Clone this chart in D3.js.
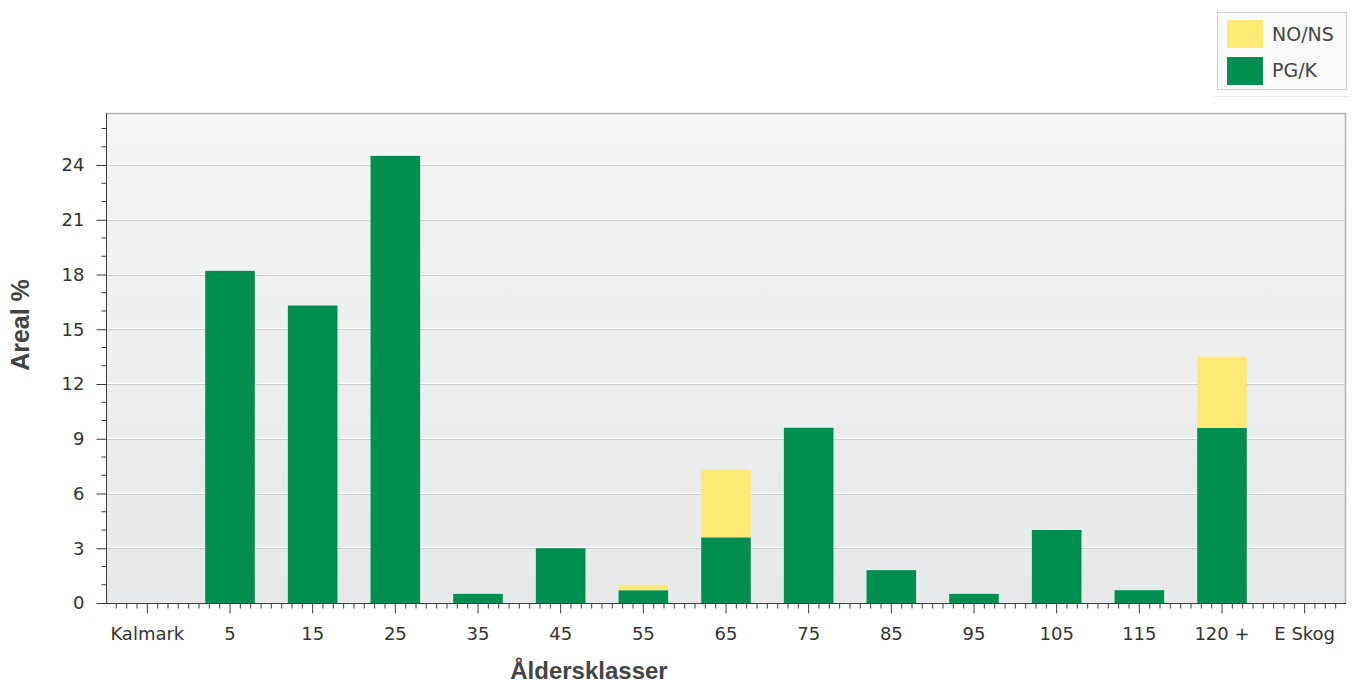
<!DOCTYPE html>
<html>
<head>
<meta charset="utf-8">
<script src="https://cdn.jsdelivr.net/npm/d3@7"></script>
<style>
  html, body { margin: 0; padding: 0; background: #ffffff; }
  svg { display: block; }
</style>
</head>
<body>
<svg id="chart" width="1358" height="686"></svg>
<script>
// ---- data ----
const categories = ["Kalmark", "5", "15", "25", "35", "45", "55", "65", "75", "85", "95", "105", "115", "120 +", "E Skog"];
const pgk   = [0, 18.2, 16.3, 24.5, 0.5, 3.0, 0.7, 3.6, 9.6, 1.8, 0.5, 4.0, 0.7, 9.6, 0];
const nons  = [0, 0, 0, 0, 0, 0, 0.3, 3.7, 0, 0, 0, 0, 0, 3.9, 0];
const seriesNames = ["PG/K", "NO/NS"];
const yTicks = [0, 3, 6, 9, 12, 15, 18, 21, 24];
const xTitle = "Åldersklasser";
const yTitle = "Areal %";

const colors = { "PG/K": "#008f50", "NO/NS": "#ffe977" };

const svg = d3.select("#chart");
const m = { left: 106, right: 12, top: 113, bottom: 83 };
const W = 1358, H = 686;
const x0 = m.left, x1 = W - m.right, y0 = H - m.bottom, yTop = m.top;

const x = d3.scaleBand().domain(categories).range([x0, x1]).paddingInner(0.4).paddingOuter(0.2);
const y = d3.scaleLinear().domain([0, 26.85]).range([y0, yTop]);

// background gradient
const defs = svg.append("defs");
const grad = defs.append("linearGradient").attr("id", "bg").attr("x1", 0).attr("y1", 0).attr("x2", 0).attr("y2", 1);
grad.append("stop").attr("offset", "0%").attr("stop-color", "#f4f4f4");
grad.append("stop").attr("offset", "100%").attr("stop-color", "#e7e8ea");

svg.append("rect").attr("x", x0).attr("y", yTop).attr("width", x1 - x0).attr("height", y0 - yTop)
  .attr("fill", "url(#bg)");

// gridlines
const grid = svg.append("g");
yTicks.filter(t => t > 0).forEach(t => {
  grid.append("line").attr("x1", x0).attr("x2", x1).attr("y1", Math.round(y(t)) - 0.5).attr("y2", Math.round(y(t)) - 0.5)
    .attr("stroke", "#ffffff").attr("stroke-width", 1.5);
  grid.append("line").attr("x1", x0).attr("x2", x1).attr("y1", Math.round(y(t)) + 0.5).attr("y2", Math.round(y(t)) + 0.5)
    .attr("stroke", "#cdcdcd").attr("stroke-width", 1);
});

// plot border (top & right)
svg.append("path")
  .attr("d", `M${x0},${yTop + 0.5}H${x1 - 0.5}V${y0}`)
  .attr("fill", "none").attr("stroke", "#b4b4b4").attr("stroke-width", 1.5);

// stacked bars
const stackData = categories.map((c, i) => ({ cat: c, "PG/K": pgk[i], "NO/NS": nons[i] }));
const stacked = d3.stack().keys(seriesNames)(stackData);
svg.append("g").selectAll("g").data(stacked).join("g")
  .attr("fill", d => colors[d.key])
  .selectAll("rect").data(d => d.filter(p => p[1] - p[0] > 0)).join("rect")
  .attr("x", d => x(d.data.cat))
  .attr("width", x.bandwidth())
  .attr("y", d => y(d[1]))
  .attr("height", d => y(d[0]) - y(d[1]));

// y axis
const yAxis = d3.axisLeft(y).tickValues(yTicks).tickSize(10).tickPadding(12).tickFormat(d3.format("d"));
const gy = svg.append("g").attr("transform", `translate(${x0 + 0.5},0)`).call(yAxis);
gy.select(".domain").attr("stroke", "#3a3a3a").attr("d", `M0,${y0}V${yTop}`);
gy.selectAll(".tick line").attr("stroke", "#3a3a3a");
gy.selectAll(".tick text").attr("font-family", "DejaVu Sans, sans-serif").attr("font-size", 18).attr("fill", "#333");
// y minor ticks
const yMinor = d3.range(0, 27, 1).filter(v => v % 3 !== 0);
gy.append("g").selectAll("line").data(yMinor).join("line")
  .attr("x1", -5).attr("x2", 0).attr("y1", d => y(d)).attr("y2", d => y(d))
  .attr("stroke", "#3a3a3a");

// x axis
const xAxis = d3.axisBottom(x).tickSize(10).tickPadding(14);
const gx = svg.append("g").attr("transform", `translate(0,${y0 + 0.5})`).call(xAxis);
gx.select(".domain").attr("stroke", "#3a3a3a").attr("d", `M${x0},0H${x1}`);
gx.selectAll(".tick line").attr("stroke", "#3a3a3a");
gx.selectAll(".tick text").attr("font-family", "DejaVu Sans, sans-serif").attr("font-size", 18).attr("fill", "#333");
// x minor ticks: 8 subdivisions per category
const step = x.step();
const xMinor = [];
categories.forEach(c => {
  const cx = x(c) + x.bandwidth() / 2;
  for (let k = 1; k < 8; k++) {
    const px = cx - step / 2 + k * step / 8;
    if (k !== 4) xMinor.push(px);
  }
  xMinor.push(cx - step / 2);
});
gx.append("g").selectAll("line").data(xMinor.filter(p => p > x0 + 2 && p < x1 - 1)).join("line")
  .attr("x1", d => d).attr("x2", d => d).attr("y1", 0).attr("y2", 5)
  .attr("stroke", "#3a3a3a");

// axis titles
svg.append("text").attr("x", 589).attr("y", 679).attr("text-anchor", "middle")
  .attr("font-family", "Liberation Sans, Arial, sans-serif").attr("font-weight", "bold")
  .attr("font-size", 24).attr("fill", "#444").text(xTitle);
svg.append("text").attr("transform", "translate(29,325) rotate(-90)").attr("text-anchor", "middle")
  .attr("font-family", "Liberation Sans, Arial, sans-serif").attr("font-weight", "bold")
  .attr("font-size", 25).attr("fill", "#444").text(yTitle);

// legend
const lg = svg.append("g");
lg.append("rect").attr("x", 1217.5).attr("y", 12.5).attr("width", 129).attr("height", 77)
  .attr("fill", "#f9f9f9").attr("stroke", "#cfcfcf");
lg.append("line").attr("x1", 1214).attr("x2", 1350).attr("y1", 96.5).attr("y2", 96.5).attr("stroke", "#ececec");
const legendItems = ["NO/NS", "PG/K"];
legendItems.forEach((name, i) => {
  lg.append("rect").attr("x", 1227).attr("y", 20 + i * 37).attr("width", 36).attr("height", 28)
    .attr("fill", colors[name]);
  lg.append("text").attr("x", 1272).attr("y", 34 + i * 36).attr("dominant-baseline", "central")
    .attr("font-family", "DejaVu Sans, sans-serif").attr("font-size", 19).attr("fill", "#444")
    .text(name);
});
</script>
</body>
</html>
